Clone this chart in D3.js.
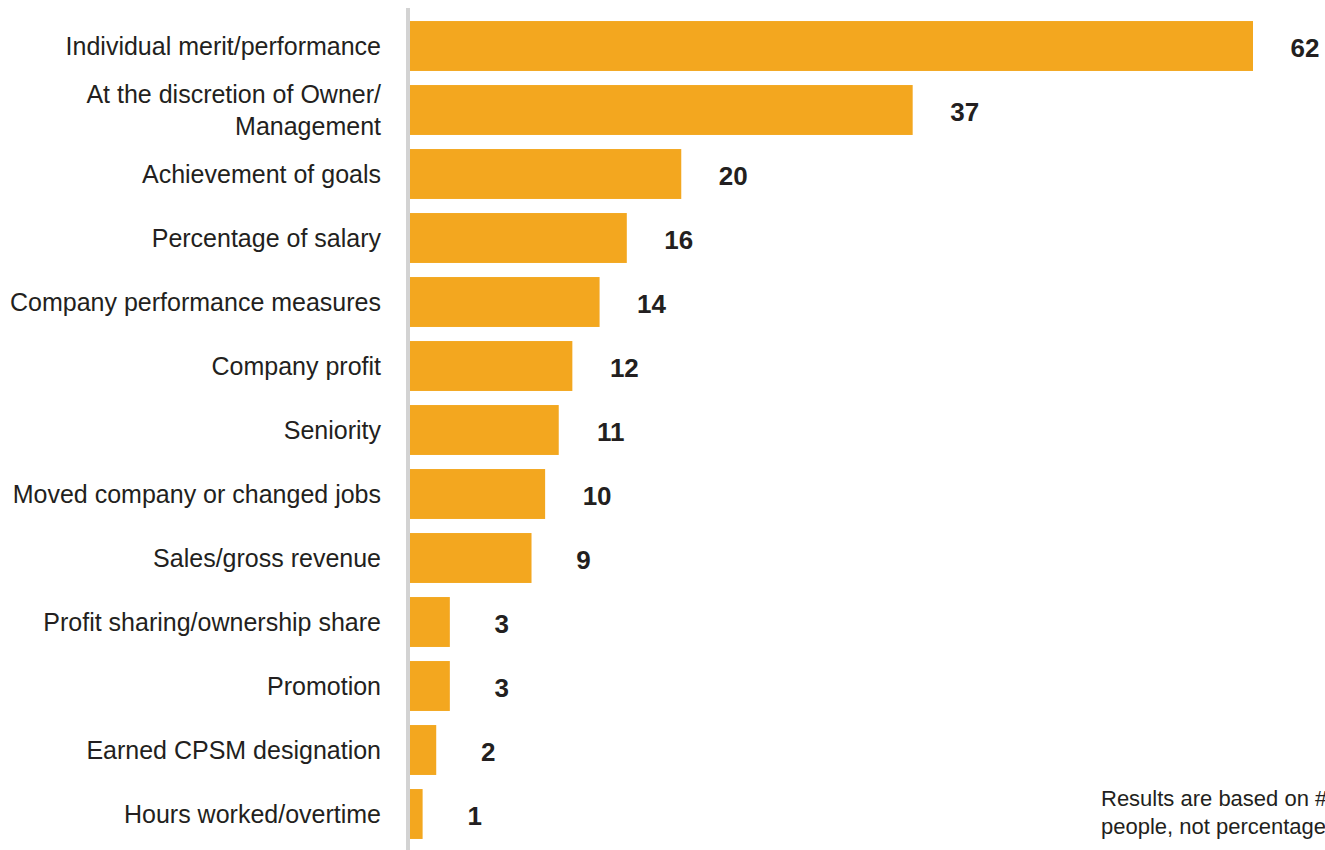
<!DOCTYPE html>
<html>
<head>
<meta charset="utf-8">
<script src="https://cdn.jsdelivr.net/npm/d3@7"></script>
<style>
  html, body { margin: 0; padding: 0; background: #fff; }
  svg { display: block; }
  text { font-family: "Liberation Sans", Arial, sans-serif; fill: #231f20; }
</style>
</head>
<body>
<svg id="chart" width="1325" height="850"></svg>
<script>
// Bonus criteria, counted in number of respondents
const categories = [
  "Individual merit/performance",
  "At the discretion of Owner/\nManagement",
  "Achievement of goals",
  "Percentage of salary",
  "Company performance measures",
  "Company profit",
  "Seniority",
  "Moved company or changed jobs",
  "Sales/gross revenue",
  "Profit sharing/ownership share",
  "Promotion",
  "Earned CPSM designation",
  "Hours worked/overtime"
];
const counts = [62, 37, 20, 16, 14, 12, 11, 10, 9, 3, 3, 2, 1];
const footnoteLines = ["Results are based on # of", "people, not percentages"];

const svg = d3.select("#chart");
const W = 1325, H = 850;
const axisX = 408;

const x = d3.scaleLinear()
  .domain([0, d3.max(counts)])
  .range([axisX + 1, 1253]);

const y = d3.scaleBand()
  .domain(d3.range(categories.length))
  .range([14, 846])
  .paddingInner(0.22)
  .paddingOuter(0.11);

// bars
svg.append("g")
  .selectAll("rect")
  .data(counts)
  .join("rect")
  .attr("x", x(0))
  .attr("y", (d, i) => y(i))
  .attr("width", d => x(d) - x(0))
  .attr("height", y.bandwidth())
  .attr("fill", "#F3A71F");

// vertical baseline
svg.append("line")
  .attr("x1", axisX).attr("x2", axisX)
  .attr("y1", 8).attr("y2", H)
  .attr("stroke", "#d3d3d3")
  .attr("stroke-width", 4);

// category labels (right aligned, multi-line where needed)
const lineH = 32;
const cat = svg.append("g")
  .selectAll("text")
  .data(categories)
  .join("text")
  .attr("text-anchor", "end")
  .attr("font-size", 25)
  .attr("dominant-baseline", "central")
  .attr("x", 381)
  .attr("y", (d, i) => y(i) + y.bandwidth() / 2);

cat.each(function(d) {
  const lines = d.split("\n");
  const t = d3.select(this);
  lines.forEach((l, k) => {
    t.append("tspan")
      .attr("x", 381)
      .attr("dy", k === 0 ? -(lines.length - 1) * lineH / 2 : lineH)
      .text(l);
  });
});

// value labels
svg.append("g")
  .selectAll("text")
  .data(counts)
  .join("text")
  .attr("text-anchor", "middle")
  .attr("dominant-baseline", "central")
  .attr("font-size", 26)
  .attr("font-weight", "bold")
  .attr("x", d => x(d) + 52)
  .attr("y", (d, i) => y(i) + y.bandwidth() / 2 + 2)
  .text(d => d);

// footnote
svg.append("g")
  .selectAll("text")
  .data(footnoteLines)
  .join("text")
  .attr("x", 1101)
  .attr("y", (d, i) => 806 + i * 28)
  .attr("font-size", 22)
  .text(d => d);
</script>
</body>
</html>
